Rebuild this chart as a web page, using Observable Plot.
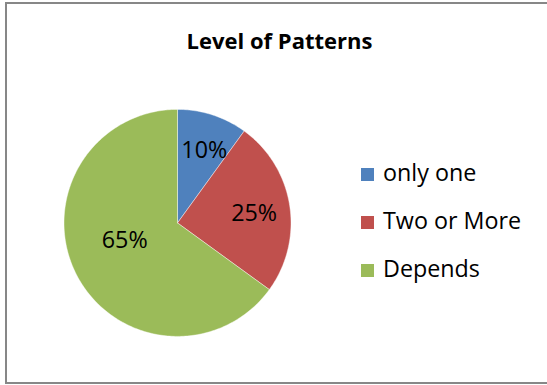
<!DOCTYPE html>
<html>
<head>
<meta charset="utf-8">
<script src="https://cdn.jsdelivr.net/npm/d3@7"></script>
<script src="https://cdn.jsdelivr.net/npm/@observablehq/plot@0.6"></script>
<style>
  body { margin: 0; background: #fff; }
  #chart { position: relative; width: 547px; height: 385px; overflow: hidden; font-family: "Open Sans", sans-serif; color: #000; }
  #frame { position: absolute; left: 5px; top: 2px; width: 620px; height: 382px; border: 2px solid #878787; box-sizing: border-box; }
  #title { position: absolute; left: 0; width: 559px; top: 28.5px; text-align: center; font-weight: bold; font-size: 22px; line-height: 22px; }
  #plot { position: absolute; left: 0; top: 0; }
  .row { position: absolute; left: 361px; font-size: 23.3px; line-height: 23px; white-space: nowrap; }
  .row .sw { position: absolute; left: 0; top: 7px; width: 13px; height: 13px; }
  .row .lb { position: absolute; left: 22px; top: 0; }
</style>
</head>
<body>
<div id="chart">
  <div id="frame"></div>
  <div id="plot"></div>
  <div id="title">Level of Patterns</div>
  <div id="legend"></div>
</div>
<script>
// Answers to "Level of Patterns"
const categories = ["only one", "Two or More", "Depends"];
const shares = [10, 25, 65];
const colors = ["#4F81BD", "#C0504D", "#9BBB59"];

// Slice angles, clockwise from 12 o'clock
const total = d3.sum(shares);
let acc = 0;
const slices = categories.map((c, i) => {
  const a0 = acc / total * 2 * Math.PI;
  acc += shares[i];
  const a1 = acc / total * 2 * Math.PI;
  return {c, v: shares[i], a0, a1, mid: (a0 + a1) / 2};
});

// Outline of each wedge on the unit circle
const outline = slices.flatMap(s => {
  const pts = [{c: s.c, x: 0, y: 0}];
  const n = Math.max(2, Math.ceil((s.a1 - s.a0) / (Math.PI / 180)));
  for (let k = 0; k <= n; k++) {
    const a = s.a0 + (s.a1 - s.a0) * k / n;
    pts.push({c: s.c, x: Math.sin(a), y: Math.cos(a)});
  }
  pts.push({c: s.c, x: 0, y: 0});
  return pts;
});

// Labels sit further out in the small wedges, nearer the centre in the big one
const labelRadius = s => (s.v / total < 0.5 ? 0.68 : 0.49);
const labelAngle = s => (s.v / total < 0.5 ? s.mid + 0.04 : s.mid + 0.15);

const W = 547, H = 385, cx = 177, cy = 222.4, r = 113.5;

const chart = Plot.plot({
  width: W,
  height: H,
  marginLeft: cx - r,
  marginRight: W - (cx + r),
  marginTop: cy - r,
  marginBottom: H - (cy + r),
  x: {domain: [-1, 1], axis: null},
  y: {domain: [-1, 1], axis: null},
  color: {domain: categories, range: colors},
  style: {background: "transparent", fontFamily: "'Open Sans', sans-serif"},
  marks: [
    Plot.line(outline, {x: "x", y: "y", z: "c", fill: "c", stroke: "#ffffff", strokeWidth: 0.6, strokeOpacity: 0.7, curve: "linear"}),
    Plot.text(slices, {
      x: s => labelRadius(s) * Math.sin(labelAngle(s)),
      y: s => labelRadius(s) * Math.cos(labelAngle(s)),
      text: s => s.v + "%",
      fontSize: 23.3,
      fill: "#000"
    })
  ]
});
document.getElementById("plot").appendChild(chart);

// Legend
const legend = document.getElementById("legend");
categories.forEach((c, i) => {
  const row = document.createElement("div");
  row.className = "row";
  row.style.top = (160.6 + 48 * i) + "px";
  const sw = document.createElement("span");
  sw.className = "sw";
  sw.style.background = colors[i];
  const lb = document.createElement("span");
  lb.className = "lb";
  lb.textContent = c;
  row.appendChild(sw);
  row.appendChild(lb);
  legend.appendChild(row);
});
</script>
</body>
</html>
